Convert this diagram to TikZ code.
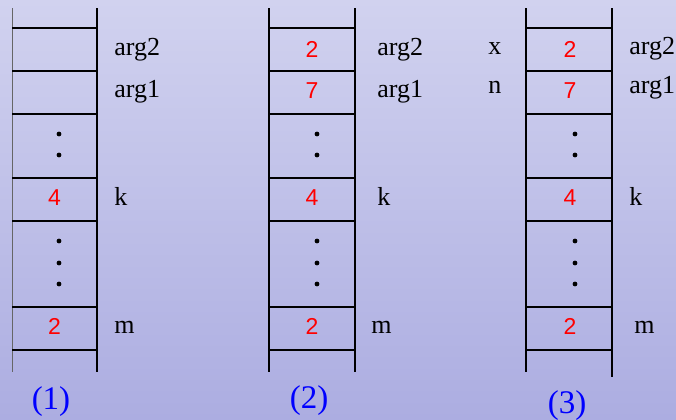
\documentclass[tikz,border=0pt]{standalone}
\usepackage{fontspec}
\setmainfont{Liberation Serif}
\newfontfamily\digitfont{Liberation Sans}
\definecolor{bgtop}{RGB}{209,210,239}
\definecolor{bgbot}{RGB}{172,173,225}
\tikzset{
  wall/.style={line width=1.1pt},
  thinwall/.style={line width=0.5pt, black!60},
  rung/.style={line width=0.6pt},
  lbl/.style={anchor=base west, inner sep=0pt, font=\fontsize{13}{15}\selectfont},
  val/.style={text=red, inner sep=0pt, font=\digitfont\fontsize{11.5}{13}\selectfont},
  capt/.style={text=blue, inner sep=0pt, font=\fontsize{16.5}{19}\selectfont},
  vdot/.style={circle, fill=black, inner sep=0pt, minimum size=2.4pt}
}
\begin{document}
\begin{tikzpicture}[x=0.5pt,y=-0.5pt]
  % background
  \shade[top color=bgtop, bottom color=bgbot] (0,0) rectangle (676,419);
  \useasboundingbox (0,0) rectangle (676,419);

  % stack (1)
  \draw[thinwall] (12,8) -- (12,372);
  \draw[wall] (97,8) -- (97,372);
  \foreach \y in {28,71,114,178,221,307,350}
    \draw[rung] (12,\y) -- (97,\y);
  \foreach \y in {134,155,241,263,284}
    \node[vdot] (a-dot\y) at (59,\y) {};
  \node[val] (a-k) at (54.5,197.5) {4};
  \node[val] (a-m) at (54.5,326.5) {2};
  \node[lbl] (a-arg2) at (114,55) {arg2};
  \node[lbl] (a-arg1) at (114,97.5) {arg1};
  \node[lbl] (a-klbl) at (114,205.5) {k};
  \node[lbl] (a-mlbl) at (114,333) {m};
  \node[capt] (a-capt) at (51,402) {(1)};

  % stack (2)
  \draw[wall, line width=0.9pt] (269,8) -- (269,372);
  \draw[wall, line width=0.9pt] (355,8) -- (355,372);
  \foreach \y in {28,71,114,178,221,307,350}
    \draw[rung] (269,\y) -- (355,\y);
  \foreach \y in {134,155,241,263,284}
    \node[vdot] (b-dot\y) at (317,\y) {};
  \node[val] (b-arg2) at (312,49) {2};
  \node[val] (b-arg1) at (312,91) {7};
  \node[val] (b-k) at (312,197.5) {4};
  \node[val] (b-m) at (312,326.5) {2};
  \node[lbl] (b-arg2lbl) at (377,55) {arg2};
  \node[lbl] (b-arg1lbl) at (377,97.5) {arg1};
  \node[lbl] (b-klbl) at (377,205.5) {k};
  \node[lbl] (b-mlbl) at (371,333) {m};
  \node[capt] (b-capt) at (309,401) {(2)};

  % stack (3)
  \draw[wall, line width=0.9pt] (526,8) -- (526,372);
  \draw[wall] (612,8) -- (612,377);
  \foreach \y in {28,71,114,178,221,307,350}
    \draw[rung] (526,\y) -- (612,\y);
  \foreach \y in {134,155,241,263,284}
    \node[vdot] (c-dot\y) at (575,\y) {};
  \node[val] (c-arg2) at (570,49) {2};
  \node[val] (c-arg1) at (570,91) {7};
  \node[val] (c-k) at (570,197.5) {4};
  \node[val] (c-m) at (570,326.5) {2};
  \node[lbl] (c-x) at (488,54) {x};
  \node[lbl] (c-n) at (488,93) {n};
  \node[lbl] (c-arg2lbl) at (629,54) {arg2};
  \node[lbl] (c-arg1lbl) at (629,93) {arg1};
  \node[lbl] (c-klbl) at (629,205.5) {k};
  \node[lbl] (c-mlbl) at (634,333) {m};
  \node[capt] (c-capt) at (567,406) {(3)};
\end{tikzpicture}
\end{document}
